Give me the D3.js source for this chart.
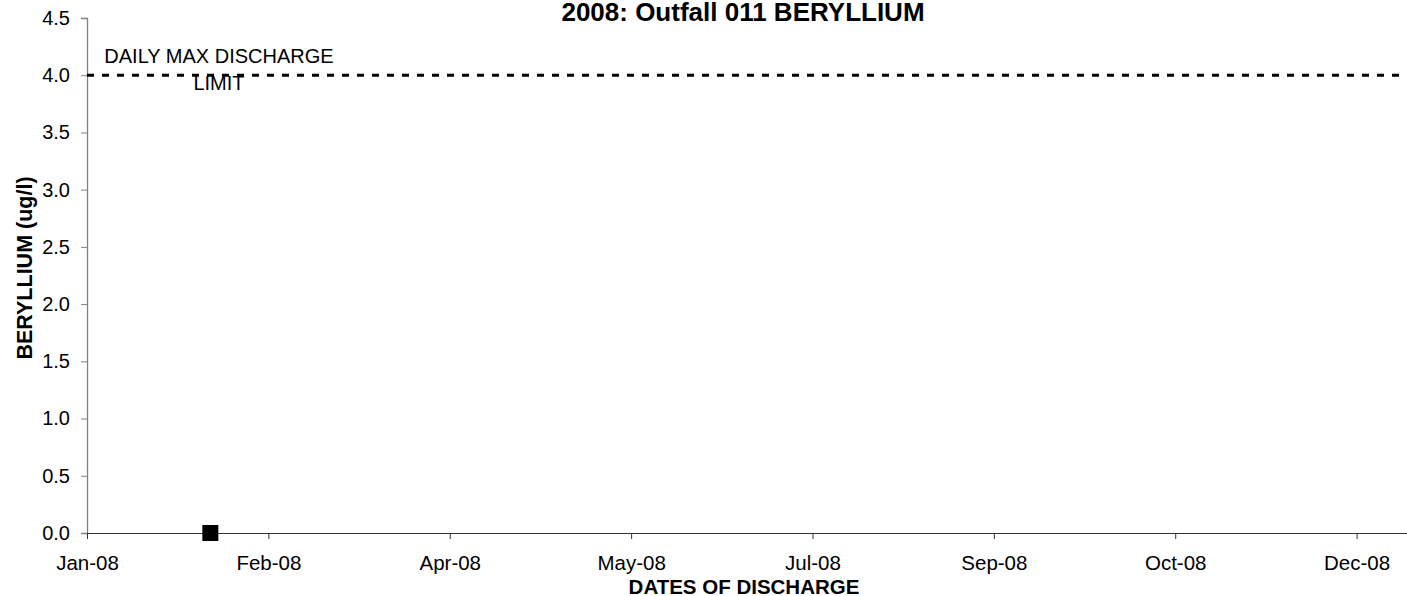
<!DOCTYPE html>
<html>
<head>
<meta charset="utf-8">
<title>2008: Outfall 011 BERYLLIUM</title>
<script src="https://cdn.jsdelivr.net/npm/d3@7"></script>
<style>
  body { margin: 0; background: #fff; }
  svg text { font-family: Arial, "Liberation Sans", sans-serif; fill: #000; }
</style>
</head>
<body>
<script>
// Data
var sampleDates = ["2008-02-04"];
var berylliumValues = [0];
var limitValue = 4.0;
var limitLabel = ["DAILY MAX DISCHARGE", "LIMIT"];
var xTickDates = ["2008-01-01", "2008-02-20", "2008-04-10", "2008-05-30",
                  "2008-07-19", "2008-09-07", "2008-10-27", "2008-12-16"];
var yTicks = [0, 0.5, 1, 1.5, 2, 2.5, 3, 3.5, 4, 4.5];

var parse = d3.timeParse("%Y-%m-%d");
var points = sampleDates.map(function(d, i) {
  return { date: parse(d), value: berylliumValues[i] };
});

var width = 1407, height = 596;

var svg = d3.select("body").append("svg")
    .attr("width", width)
    .attr("height", height);

// Scales
var x = d3.scaleTime()
    .domain([parse("2008-01-01"), parse("2008-12-31")])
    .range([87, 1411]);
var y = d3.scaleLinear()
    .domain([0, 4.5])
    .range([533, 18]);

// Title
svg.append("text")
    .attr("x", 743)
    .attr("y", 21)
    .attr("text-anchor", "middle")
    .style("font-size", "26px")
    .style("font-weight", "bold")
    .text("2008: Outfall 011 BERYLLIUM");

// Y axis
var yAxis = svg.append("g")
    .attr("transform", "translate(" + x.range()[0] + ",0)")
    .call(d3.axisLeft(y)
      .tickValues(yTicks)
      .tickSize(6)
      .tickPadding(11)
      .tickFormat(d3.format(".1f")));
yAxis.select(".domain").attr("stroke", "#808080").attr("stroke-width", 1.3);
yAxis.selectAll(".tick line").attr("stroke", "#808080");
yAxis.selectAll("text").style("font-size", "20px");

// X axis
var xAxis = svg.append("g")
    .attr("transform", "translate(0," + y(0) + ")")
    .call(d3.axisBottom(x)
      .tickValues(xTickDates.map(parse))
      .tickSize(6)
      .tickPadding(16)
      .tickFormat(d3.timeFormat("%b-%y")));
xAxis.select(".domain").attr("stroke", "#333");
xAxis.selectAll(".tick line").attr("stroke", "#333");
xAxis.selectAll("text").style("font-size", "20.5px");

// Axis titles
svg.append("text")
    .attr("x", 744)
    .attr("y", 594)
    .attr("text-anchor", "middle")
    .style("font-size", "20.5px")
    .style("font-weight", "bold")
    .text("DATES OF DISCHARGE");

svg.append("text")
    .attr("transform", "translate(32,268) rotate(-90)")
    .attr("text-anchor", "middle")
    .style("font-size", "21.5px")
    .style("font-weight", "bold")
    .text("BERYLLIUM (ug/l)");

// Daily max discharge limit
svg.append("line")
    .attr("x1", x.range()[0])
    .attr("x2", width)
    .attr("y1", y(limitValue))
    .attr("y2", y(limitValue))
    .attr("stroke", "#000")
    .attr("stroke-width", 3)
    .attr("stroke-dasharray", "7,8");

svg.append("text")
    .attr("x", 219)
    .attr("text-anchor", "middle")
    .style("font-size", "20px")
    .selectAll("tspan")
    .data(limitLabel)
    .enter()
    .append("tspan")
    .attr("x", 219)
    .attr("y", function(d, i) { return 63 + i * 27; })
    .text(function(d) { return d; });

// Samples
svg.selectAll("rect.sample")
    .data(points)
    .enter()
    .append("rect")
    .attr("class", "sample")
    .attr("x", function(d) { return x(d.date) - 8; })
    .attr("y", function(d) { return y(d.value) - 8; })
    .attr("width", 16)
    .attr("height", 16)
    .attr("fill", "#000");
</script>
</body>
</html>
